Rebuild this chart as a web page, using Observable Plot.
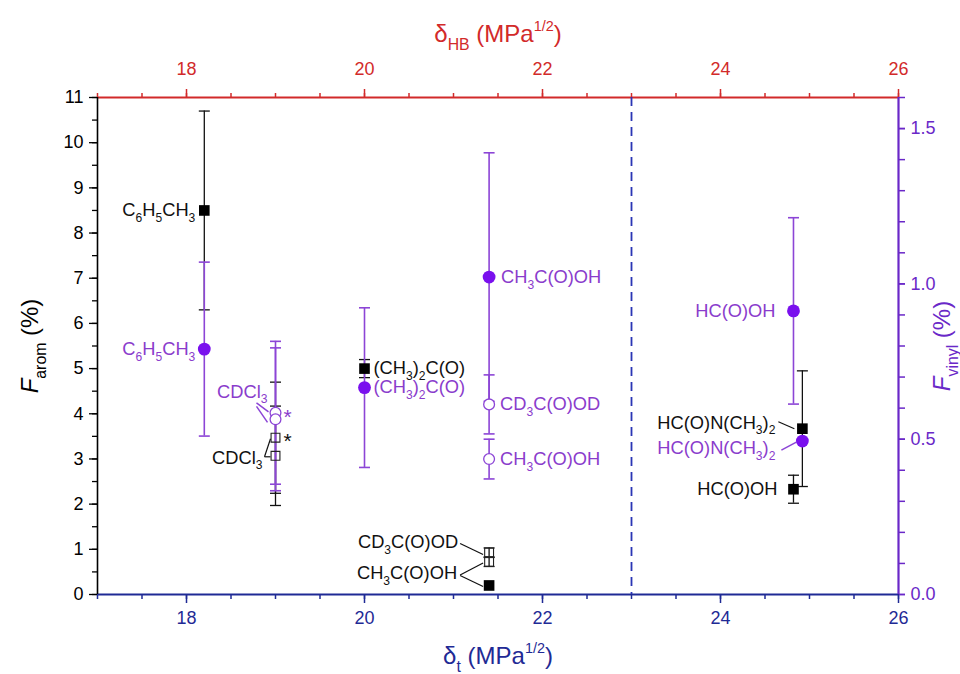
<!DOCTYPE html>
<html>
<head>
<meta charset="utf-8">
<script src="https://cdn.jsdelivr.net/npm/d3@7"></script>
<script src="https://cdn.jsdelivr.net/npm/@observablehq/plot@0.6"></script>
<style>
  html, body { margin: 0; padding: 0; background: #fff; }
  #chart { width: 960px; height: 674px; }
</style>
</head>
<body>
<div id="chart"></div>
<script>
// ---------- data ----------
// Black series: F_arom (%) on left axis, vs delta_t
const aromNames   = ["C6H5CH3", "CDCl3 (*)", "CDCl3", "(CH3)2C(O)", "CD3C(O)OD", "CH3C(O)OH (open)", "CH3C(O)OH", "HC(O)OH", "HC(O)N(CH3)2"];
const aromDeltaT  = [18.2, 19.0, 19.0, 20.0, 21.4, 21.4, 21.4, 24.82, 24.92];
const aromValue   = [8.5, 3.47, 3.07, 5.0, 0.93, 0.72, 0.2, 2.33, 3.67];
const aromError   = [2.2, 1.23, 1.1, 0.2, 0.1, 0.1, 0, 0.31, 1.28];
const aromOpen    = [false, true, true, false, true, true, false, false, false];

// Purple series: F_vinyl (%) on right axis, vs delta_t
const vinylNames  = ["C6H5CH3", "CDCl3 (*)", "CDCl3", "(CH3)2C(O)", "CH3C(O)OH", "CD3C(O)OD", "CH3C(O)OH (open)", "HC(O)OH", "HC(O)N(CH3)2"];
const vinylDeltaT = [18.2, 19.0, 19.0, 20.0, 21.4, 21.4, 21.4, 24.82, 24.92];
const vinylValue  = [0.79, 0.585, 0.564, 0.666, 1.022, 0.612, 0.436, 0.913, 0.494];
const vinylError  = [0.28, 0.23, 0.23, 0.257, 0.40, 0.095, 0.064, 0.30, 0];
const vinylOpen   = [false, true, true, false, false, true, true, false, false];

// Axes
const xDomain      = [17, 26];
const yDomain      = [0, 11];
const vinylDomain  = [0, 1.6];
const xMajorTicks  = [18, 20, 22, 24, 26];
const yMajorTicks  = [0, 1, 2, 3, 4, 5, 6, 7, 8, 9, 10, 11];
const vinylMajor   = [0.0, 0.5, 1.0, 1.5];
const boundaryDelta = [23];

// ---------- layout / style ----------
const W = 960, H = 674;
const M = {top: 97, right: 62, bottom: 80, left: 97};
const k = yDomain[1] / vinylDomain[1];           // vinyl -> left-axis units
const ppx = (W - M.left - M.right) / (xDomain[1] - xDomain[0]);
const ppy = (H - M.top - M.bottom) / (yDomain[1] - yDomain[0]);

const RED = "#d22a2a", NAVY = "#1f2a95", BLACK = "#000", PURPLE = "#7a10ee",
      PLINE = "#8c45d6", PTEXT = "#8a3ccc", PAXIS = "#6a28c8", DASH = "#2a35b5";
const FONT = "'Liberation Sans', Arial, Helvetica, sans-serif";
const LABEL_SIZE = 18.3;

const arom = aromNames.map((n, i) => ({name: n, x: aromDeltaT[i], y: aromValue[i], e: aromError[i], open: aromOpen[i]}));
const vinyl = vinylNames.map((n, i) => ({name: n, x: vinylDeltaT[i], v: vinylValue[i], y: vinylValue[i] * k, e: vinylError[i] * k, open: vinylOpen[i]}));

// label text (markup: _{sub} ^{sup} ~{italic}) and pixel placement
const aromLabels = [
  {i: 0, text: "C_{6}H_{5}CH_{3}", dx: -9, dy: 0, anchor: "end"},
  {i: 1, text: "*", dx: 8, dy: 4, anchor: "start", size: 21},
  {i: 2, text: "CDCl_{3}", dx: -13, dy: 2, anchor: "end"},
  {i: 3, text: "(CH_{3})_{2}C(O)", dx: 9, dy: 0, anchor: "start"},
  {i: 4, text: "CD_{3}C(O)OD", dx: -31, dy: -10, anchor: "end"},
  {i: 5, text: "CH_{3}C(O)OH", dx: -32, dy: 11, anchor: "end"},
  {i: 7, text: "HC(O)OH", dx: -16, dy: 0, anchor: "end"},
  {i: 8, text: "HC(O)N(CH_{3})_{2}", dx: -27, dy: -6, anchor: "end"}
];
const vinylLabels = [
  {i: 0, text: "C_{6}H_{5}CH_{3}", dx: -9, dy: 0, anchor: "end"},
  {i: 1, text: "CDCl_{3}", dx: -8, dy: -21, anchor: "end"},
  {i: 1, text: "*", dx: 8, dy: 4, anchor: "start", size: 21},
  {i: 3, text: "(CH_{3})_{2}C(O)", dx: 9, dy: 0, anchor: "start"},
  {i: 4, text: "CH_{3}C(O)OH", dx: 12, dy: 0, anchor: "start"},
  {i: 5, text: "CD_{3}C(O)OD", dx: 11, dy: 0, anchor: "start"},
  {i: 6, text: "CH_{3}C(O)OH", dx: 11, dy: 0, anchor: "start"},
  {i: 7, text: "HC(O)OH", dx: -18, dy: 0, anchor: "end"},
  {i: 8, text: "HC(O)N(CH_{3})_{2}", dx: -27, dy: 7, anchor: "end"}
];
// leader lines: pixel offsets from the point
const aromLeaders = [
  {i: 1, from: [-11, 19], to: [-5, 1]},
  {i: 2, from: [-11, 1], to: [-5, 1]},
  {i: 4, from: [-29, -9], to: [-6, 2]},
  {i: 5, from: [-29, 13], to: [-6, 1]},
  {i: 6, from: [-29, -10], to: [-6, 1]},
  {i: 8, from: [-24, -7], to: [-8, 0]}
];
const vinylLeaders = [
  {i: 1, from: [-19, -10], to: [-7, -1]},
  {i: 2, from: [-19, -13], to: [-8, 3]},
  {i: 8, from: [-21, 9], to: [-6, 1]}
];

const leaderRows = (series, leaders) => leaders.map(l => {
  const p = series[l.i];
  return {x1: p.x + l.from[0] / ppx, y1: p.y - l.from[1] / ppy, x2: p.x + l.to[0] / ppx, y2: p.y - l.to[1] / ppy};
});

const cap = {draw(ctx, size) { const r = Math.sqrt(size / Math.PI); ctx.moveTo(-r, 0); ctx.lineTo(r, 0); }};

function errorBars(series, color, width) {
  const withErr = series.filter(d => d.e > 0);
  return [
    Plot.ruleX(withErr, {x: "x", y1: d => d.y - d.e, y2: d => d.y + d.e, stroke: color, strokeWidth: width}),
    Plot.dot(withErr, {x: "x", y: d => d.y - d.e, symbol: cap, r: 5.5, stroke: color, fill: "none", strokeWidth: width}),
    Plot.dot(withErr, {x: "x", y: d => d.y + d.e, symbol: cap, r: 5.5, stroke: color, fill: "none", strokeWidth: width})
  ];
}

function labelMarks(series, labels, color) {
  return labels.map(l => Plot.text([series[l.i]], {
    x: "x", y: "y", text: () => l.text, dx: l.dx, dy: l.dy,
    textAnchor: l.anchor, lineAnchor: "middle", fill: color, fontSize: l.size || LABEL_SIZE
  }));
}

const minorX = d3.range(0, 19).map(i => xDomain[0] + i * 0.5);
const minorY = d3.range(0, 23).map(i => i * 0.5);
const minorV = d3.range(0, 17).map(i => (i / 10) * k);

const plot = Plot.plot({
  width: W, height: H,
  marginTop: M.top, marginRight: M.right, marginBottom: M.bottom, marginLeft: M.left,
  style: {fontFamily: FONT, background: "#fff"},
  x: {domain: xDomain},
  y: {domain: yDomain},
  marks: [
    // axes: bottom (delta_t)
    Plot.axisX({anchor: "bottom", ticks: minorX, tickSize: 5, tickFormat: () => "", stroke: NAVY, strokeWidth: 1.5, label: null}),
    Plot.axisX({anchor: "bottom", ticks: xMajorTicks, tickSize: 9, tickPadding: 8, color: NAVY, strokeWidth: 1.5, fontSize: 18, label: null}),
    // top (delta_HB)
    Plot.axisX({anchor: "top", ticks: minorX, tickSize: 5, tickFormat: () => "", stroke: RED, strokeWidth: 1.5, label: null}),
    Plot.axisX({anchor: "top", ticks: xMajorTicks, tickSize: 9, tickPadding: 14, color: RED, strokeWidth: 1.5, fontSize: 18, label: null}),
    // left (F_arom)
    Plot.axisY({anchor: "left", ticks: minorY, tickSize: 5, tickFormat: () => "", stroke: BLACK, strokeWidth: 1.3, label: null}),
    Plot.axisY({anchor: "left", ticks: yMajorTicks, tickSize: 8, tickPadding: 6, color: BLACK, strokeWidth: 1.3, fontSize: 18, label: null}),
    // right (F_vinyl)
    Plot.axisY({anchor: "right", ticks: minorV, tickSize: 6, tickFormat: () => "", stroke: PAXIS, strokeWidth: 1.5, label: null}),
    Plot.axisY({anchor: "right", ticks: vinylMajor.map(v => v * k), tickFormat: d => (d / k).toFixed(1), tickSize: 6, tickPadding: 6, color: PAXIS, strokeWidth: 1.5, fontSize: 18, label: null}),
    // frame lines
    Plot.ruleY([yDomain[1]], {stroke: RED, strokeWidth: 2}),
    Plot.ruleY([yDomain[0]], {stroke: NAVY, strokeWidth: 2}),
    Plot.ruleX([xDomain[0]], {stroke: BLACK, strokeWidth: 1.6}),
    Plot.ruleX([xDomain[1]], {stroke: PAXIS, strokeWidth: 2.2}),
    Plot.ruleX(boundaryDelta, {stroke: DASH, strokeWidth: 1.8, strokeDasharray: "9,6"}),
    // axis titles
    Plot.text(["δ_{HB} (MPa^{1/2})"], {frameAnchor: "top", dy: -63, textAnchor: "middle", lineAnchor: "middle", fill: RED, fontSize: 24}),
    Plot.text(["δ_{t} (MPa^{1/2})"], {frameAnchor: "bottom", dy: 62, textAnchor: "middle", lineAnchor: "middle", fill: NAVY, fontSize: 24}),
    Plot.text(["~{F}_{arom} (%)"], {frameAnchor: "left", dx: -67, rotate: -90, textAnchor: "middle", lineAnchor: "middle", fill: BLACK, fontSize: 24}),
    Plot.text(["~{F}_{vinyl} (%)"], {frameAnchor: "right", dx: 44, rotate: -90, textAnchor: "middle", lineAnchor: "middle", fill: PAXIS, fontSize: 24}),
    // error bars
    ...errorBars(arom, "#111", 1.3),
    ...errorBars(vinyl, PLINE, 1.6),
    // leader lines
    Plot.link(leaderRows(arom, aromLeaders), {x1: "x1", y1: "y1", x2: "x2", y2: "y2", stroke: "#111", strokeWidth: 1.2}),
    Plot.link(leaderRows(vinyl, vinylLeaders), {x1: "x1", y1: "y1", x2: "x2", y2: "y2", stroke: PLINE, strokeWidth: 1.5}),
    // markers
    Plot.dot(arom.filter(d => !d.open), {x: "x", y: "y", symbol: "square", r: 6, fill: BLACK}),
    Plot.dot(arom.filter(d => d.open), {x: "x", y: "y", symbol: "square", r: 5, fill: "none", stroke: "#222", strokeWidth: 1.1}),
    Plot.dot(vinyl.filter(d => !d.open), {x: "x", y: "y", symbol: "circle", r: 6.4, fill: PURPLE}),
    Plot.dot(vinyl.filter(d => d.open), {x: "x", y: "y", symbol: "circle", r: 5.4, fill: "white", stroke: PLINE, strokeWidth: 1.3}),
    // data labels
    ...labelMarks(arom, aromLabels, "#111"),
    ...labelMarks(vinyl, vinylLabels, PTEXT)
  ]
});

document.getElementById("chart").appendChild(plot);

// turn _{..} ^{..} ~{..} markup into real tspans (sub/superscripts, italics)
function richText(svg) {
  svg.querySelectorAll("text").forEach(t => {
    if (t.querySelector("tspan")) return;
    const s = t.textContent;
    if (!/[_^~]\{/.test(s)) return;
    const fs = parseFloat(getComputedStyle(t).fontSize) || 16;
    t.textContent = "";
    const re = /([_^~])\{([^}]*)\}|([^_^~]+)/g;
    let m, shift = 0;
    while ((m = re.exec(s))) {
      const ts = document.createElementNS("http://www.w3.org/2000/svg", "tspan");
      let target = 0, size = null, italic = false, txt;
      if (m[3] !== undefined) txt = m[3];
      else if (m[1] === "_") { txt = m[2]; target = 0.32 * fs; size = 0.66 * fs; }
      else if (m[1] === "^") { txt = m[2]; target = -0.45 * fs; size = 0.6 * fs; }
      else { txt = m[2]; italic = true; }
      const d = target - shift;
      if (d) ts.setAttribute("dy", d.toFixed(2));
      shift = target;
      if (size) ts.setAttribute("font-size", size.toFixed(2));
      if (italic) ts.setAttribute("font-style", "italic");
      ts.textContent = txt;
      t.appendChild(ts);
    }
  });
}
richText(plot);
</script>
</body>
</html>
